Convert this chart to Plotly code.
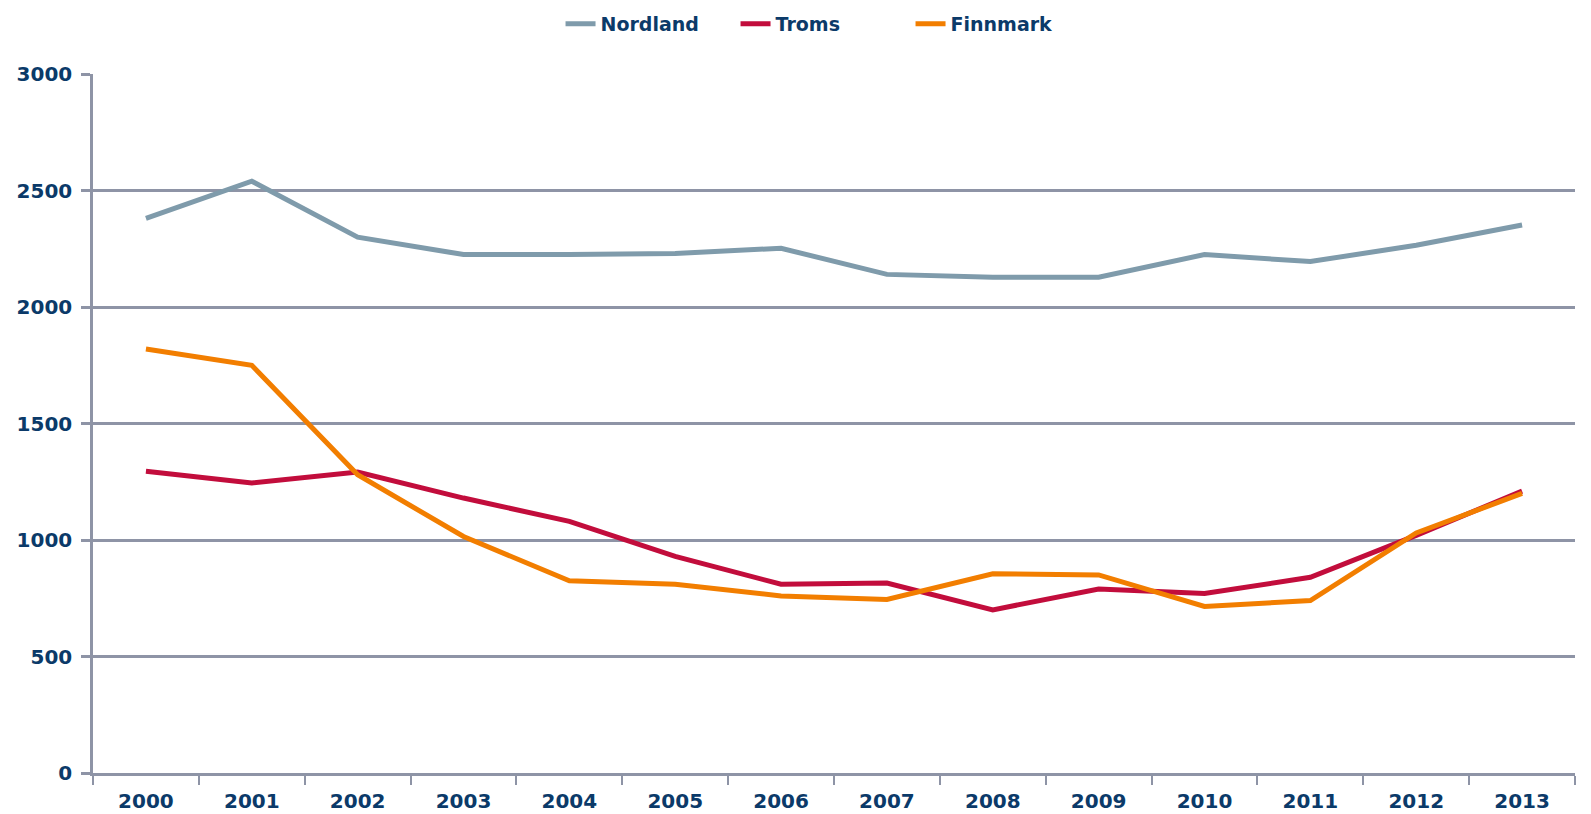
import plotly.graph_objects as go

years = [str(y) for y in range(2000, 2014)]
nordland = [2380, 2540, 2300, 2225, 2225, 2230, 2252, 2140, 2128, 2128, 2225, 2195, 2265, 2352]
troms = [1295, 1245, 1292, 1180, 1080, 930, 810, 815, 700, 790, 770, 840, 1020, 1210]
finnmark = [1820, 1750, 1280, 1015, 825, 810, 760, 745, 855, 850, 715, 740, 1030, 1200]

colors = {"Nordland": "#7f9bab", "Troms": "#c20d3c", "Finnmark": "#f27e00"}
text_color = "#0b3a69"
grid_color = "#8e94a6"
fam = "DejaVu Sans, sans-serif"

fig = go.Figure()
for name, vals in [("Nordland", nordland), ("Troms", troms), ("Finnmark", finnmark)]:
    fig.add_trace(go.Scatter(x=years, y=vals, mode="lines", name=name,
                             line=dict(color=colors[name], width=5)))

fig.update_layout(
    width=1591, height=814,
    margin=dict(l=85, r=24, t=66, b=49, autoexpand=False),
    plot_bgcolor="white", paper_bgcolor="white",
    font=dict(family=fam, size=20, color=text_color),
    showlegend=True,
    legend=dict(orientation="h", x=0.4926, xanchor="center", y=1.0715, yanchor="middle",
                font=dict(family=fam, size=19, color=text_color, weight="bold"),
                entrywidth=130, entrywidthmode="pixels",
                tracegroupgap=0),
    xaxis=dict(type="category", showgrid=False, showline=True, linecolor=grid_color, linewidth=2.5,
               ticks="outside", tickson="boundaries", ticklen=9, tickwidth=2, tickcolor=grid_color,
               tickfont=dict(family=fam, size=20, color=text_color, weight="bold"),
               ticklabelstandoff=8,
               range=[-0.5, 13.5], automargin=False),
    yaxis=dict(range=[0, 3000], dtick=500, showgrid=True, gridcolor=grid_color, gridwidth=2.5,
               showline=True, linecolor=grid_color, linewidth=2.5, zeroline=False,
               ticks="outside", ticklen=9, tickwidth=2.5, tickcolor=grid_color,
               ticklabelstandoff=5,
               tickfont=dict(family=fam, size=20, color=text_color, weight="bold"), automargin=False),
)
fig.write_html("out.html")
